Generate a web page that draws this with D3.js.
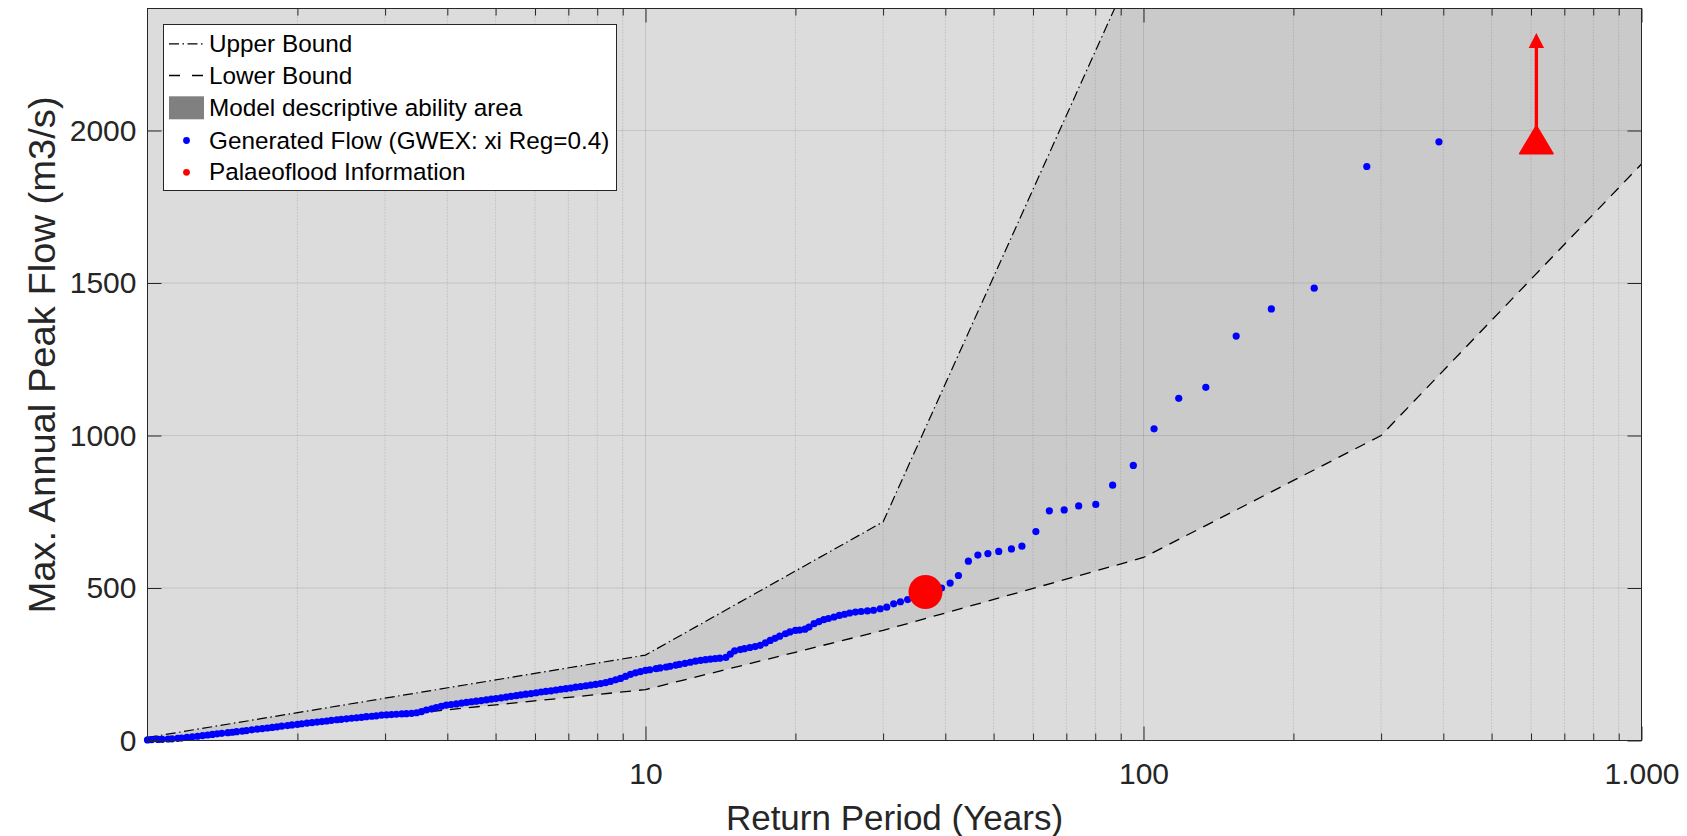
<!DOCTYPE html>
<html>
<head>
<meta charset="utf-8">
<script src="https://cdn.jsdelivr.net/npm/d3@7"></script>
<style>
  html, body { margin: 0; padding: 0; background: #ffffff; }
  svg { display: block; font-family: "Liberation Sans", Arial, Helvetica, sans-serif; }
</style>
</head>
<body>
<svg id="chart" width="1687" height="836"></svg>
<script>
// ---------------- data ----------------
// Generated annual peak flows, sorted, with their empirical return periods (years)
const returnPeriod = [
  1.00, 1.02, 1.05, 1.07, 1.10, 1.12, 1.15, 1.17, 1.20, 1.23,
  1.26, 1.29, 1.32, 1.35, 1.38, 1.41, 1.45, 1.48, 1.51, 1.55,
  1.58, 1.62, 1.66, 1.70, 1.74, 1.78, 1.82, 1.86, 1.91, 1.95,
  2.00, 2.04, 2.09, 2.14, 2.19, 2.24, 2.29, 2.34, 2.40, 2.45,
  2.51, 2.57, 2.63, 2.69, 2.75, 2.82, 2.88, 2.95, 3.02, 3.09,
  3.16, 3.24, 3.31, 3.39, 3.47, 3.55, 3.63, 3.72, 3.80, 3.89,
  3.98, 4.07, 4.17, 4.27, 4.37, 4.47, 4.57, 4.68, 4.79, 4.90,
  5.01, 5.13, 5.25, 5.37, 5.50, 5.62, 5.75, 5.89, 6.03, 6.17,
  6.31, 6.46, 6.61, 6.76, 6.92, 7.08, 7.24, 7.41, 7.59, 7.76,
  7.94, 8.13, 8.32, 8.51, 8.71, 8.91, 9.12, 9.33, 9.55, 9.77,
  10.0, 10.2, 10.5, 10.7, 11.0, 11.2, 11.5, 11.7, 12.0, 12.3,
  12.6, 12.9, 13.2, 13.5, 13.8, 14.1, 14.5, 14.8, 15.1, 15.5,
  15.8, 16.2, 16.6, 17.0, 17.4, 17.8, 18.2, 18.6, 19.1, 19.5,
  20.0, 20.4, 20.9, 21.3, 21.8, 22.3, 22.8, 23.3, 23.9, 24.5,
  25.1, 25.7, 26.4, 27.1, 27.9, 28.7, 29.6, 30.5, 31.5, 32.5,
  33.6, 34.8, 36.0, 37.4, 39.3, 40.9, 42.5, 44.5, 46.5, 48.7,
  51.2, 54.3, 57.0, 60.8, 64.7, 69.3, 74.1, 80.2, 86.7, 95.4,
  105, 117.7, 133.4, 153.5, 180.6, 220.2, 280.8, 392
];
const peakFlow = [
  2, 3, 3.5, 4, 5, 5.5, 7, 8, 10, 12,
  14, 16, 18, 20, 22, 23.5, 25.5, 27, 29, 31,
  32.5, 35, 37, 39, 41, 43, 45, 47, 49, 51,
  53, 55, 57, 58.5, 60.5, 62, 64, 66, 68, 69.5,
  71, 73, 74.5, 76, 78, 79.5, 81, 83, 84, 85,
  86, 87, 88, 89, 91, 95, 100, 104, 108, 112,
  116, 118, 120, 122.5, 125, 127, 129, 131, 133, 135.5,
  137.5, 140, 142.5, 145, 147, 149.5, 152, 154, 156.5, 159,
  161, 163, 165.5, 168, 170, 172, 175, 177, 179.5, 182,
  184, 186.5, 190, 194, 199, 203.5, 210, 217, 222, 226,
  230, 232, 235.5, 238, 241, 243.5, 247, 249.5, 253, 256.5,
  260, 263, 265, 267, 268.5, 270, 272.5, 283, 294, 298,
  301, 305, 308, 312, 320, 328, 335, 342, 350, 356,
  361, 362, 365, 372, 383, 390, 396, 400, 405, 410,
  414, 418, 421, 423, 425, 427, 432, 437, 448, 455,
  462, 476, 483, 490, 500, 516, 541, 588, 608, 613,
  620, 628, 637, 685, 753, 756, 769, 774, 837, 902,
  1022, 1122, 1158, 1326, 1415, 1483, 1882, 1963
];

// Bounds of the model descriptive ability area
const upperT = [1, 10, 30, 100, 1000];
const upperQ = [10, 280, 717, 2610, 6000];
const lowerT = [1, 10, 30, 100, 300, 1000];
const lowerQ = [0, 167, 361, 600, 1000, 1890];

// Palaeoflood information: dated flood and a censored (lower-limit) flood
const palaeoT = [36.5];
const palaeoQ = [487];
const censoredT = [615];
const censoredQ = [1970];
const censoredArrowTop = [2320];

// Axis ticks
const xTicks = [10, 100, 1000];
const xMinorTicks = [2, 3, 4, 5, 6, 7, 8, 9, 20, 30, 40, 50, 60, 70, 80, 90,
                     200, 300, 400, 500, 600, 700, 800, 900];
const yTicks = [0, 500, 1000, 1500, 2000];

const legendLabels = [
  "Upper Bound",
  "Lower Bound",
  "Model descriptive ability area",
  "Generated Flow (GWEX: xi Reg=0.4)",
  "Palaeoflood Information"
];

// ---------------- layout ----------------
const svg = d3.select("#chart");
const pL = 147.5, pR = 1641.5, pT = 8.5, pB = 740.5;
const axisColor = "#262626";

const x = d3.scaleLog().domain([1, 1000]).range([pL, pR]);
const y = d3.scaleLinear().domain([0, 2400]).range([pB, pT]);

const fmtX = d3.formatLocale({ decimal: ",", thousands: ".", grouping: [3], currency: ["", ""] }).format(",");

svg.append("defs").append("clipPath").attr("id", "plotClip")
  .append("rect").attr("x", pL).attr("y", pT).attr("width", pR - pL).attr("height", pB - pT);

// axes background
svg.append("rect")
  .attr("x", pL).attr("y", pT).attr("width", pR - pL).attr("height", pB - pT)
  .attr("fill", "#dcdcdc");

const plot = svg.append("g").attr("clip-path", "url(#plotClip)");

// shaded area between bounds
const upperPts = upperT.map((t, i) => [x(t), y(upperQ[i])]);
const lowerPts = lowerT.map((t, i) => [x(t), y(lowerQ[i])]);
plot.append("path")
  .attr("d", d3.line()(upperPts.concat(lowerPts.slice().reverse())) + "Z")
  .attr("fill", "#808080").attr("fill-opacity", 0.2).attr("stroke", "none");

// grid
const grid = svg.append("g");
grid.selectAll("line.minor").data(xMinorTicks).join("line")
  .attr("x1", d => x(d)).attr("x2", d => x(d)).attr("y1", pT).attr("y2", pB)
  .attr("stroke", "#000").attr("stroke-opacity", 0.2).attr("stroke-dasharray", "1,2");
grid.selectAll("line.vmajor").data(xTicks.slice(0, 2)).join("line")
  .attr("x1", d => x(d)).attr("x2", d => x(d)).attr("y1", pT).attr("y2", pB)
  .attr("stroke", "#000").attr("stroke-opacity", 0.1);
grid.selectAll("line.hmajor").data(yTicks.slice(1)).join("line")
  .attr("x1", pL).attr("x2", pR).attr("y1", d => y(d)).attr("y2", d => y(d))
  .attr("stroke", "#000").attr("stroke-opacity", 0.1);

// bound lines
const lines = svg.append("g").attr("clip-path", "url(#plotClip)");
lines.append("path").attr("d", d3.line()(upperPts))
  .attr("fill", "none").attr("stroke", "#000").attr("stroke-width", 1.2)
  .attr("stroke-dasharray", "10,3.5,1.5,3.5");
lines.append("path").attr("d", d3.line()(lowerPts))
  .attr("fill", "none").attr("stroke", "#000").attr("stroke-width", 1.3)
  .attr("stroke-dasharray", "11,8");

// generated flow points
svg.append("g").selectAll("circle").data(returnPeriod).join("circle")
  .attr("cx", d => x(d)).attr("cy", (d, i) => y(peakFlow[i])).attr("r", 3.6)
  .attr("fill", "#0000ff");

// palaeoflood
svg.append("g").selectAll("circle").data(palaeoT).join("circle")
  .attr("cx", d => x(d)).attr("cy", (d, i) => y(palaeoQ[i])).attr("r", 17)
  .attr("fill", "#ff0000");

// censored palaeoflood: arrow upward + triangle marker
const cens = svg.append("g");
censoredT.forEach((t, i) => {
  const cx = x(t), cy = y(censoredQ[i]), ty = y(censoredArrowTop[i]);
  cens.append("line").attr("x1", cx).attr("x2", cx).attr("y1", cy).attr("y2", ty + 14)
    .attr("stroke", "#ff0000").attr("stroke-width", 3.4);
  cens.append("path")
    .attr("d", `M${cx},${ty} L${cx - 7.7},${ty + 15} L${cx + 7.7},${ty + 15} Z`)
    .attr("fill", "#ff0000");
  cens.append("path")
    .attr("d", `M${cx},${cy - 14} L${cx - 16.7},${cy + 14} L${cx + 16.7},${cy + 14} Z`)
    .attr("fill", "#ff0000").attr("stroke", "#ff0000").attr("stroke-width", 1.5)
    .attr("stroke-linejoin", "round");
});

// axes
function styleAxis(g) {
  g.select(".domain").remove();
  g.selectAll(".tick line").attr("stroke", axisColor);
  g.selectAll(".tick text").attr("fill", axisColor).attr("font-size", 30)
    .attr("font-family", "'Liberation Sans', Arial, sans-serif");
}
svg.append("g").attr("transform", `translate(0,${pB})`)
  .call(d3.axisBottom(x).tickValues(xTicks).tickFormat(fmtX).tickSizeInner(-14).tickSizeOuter(0).tickPadding(22))
  .call(styleAxis);
svg.append("g").attr("transform", `translate(0,${pB})`)
  .call(d3.axisBottom(x).tickValues(xMinorTicks).tickFormat("").tickSizeInner(-7).tickSizeOuter(0))
  .call(styleAxis);
svg.append("g").attr("transform", `translate(0,${pT})`)
  .call(d3.axisTop(x).tickValues(xTicks).tickFormat("").tickSizeInner(-14).tickSizeOuter(0))
  .call(styleAxis);
svg.append("g").attr("transform", `translate(0,${pT})`)
  .call(d3.axisTop(x).tickValues(xMinorTicks).tickFormat("").tickSizeInner(-7).tickSizeOuter(0))
  .call(styleAxis);
svg.append("g").attr("transform", `translate(${pL},0)`)
  .call(d3.axisLeft(y).tickValues(yTicks).tickFormat(d3.format("d")).tickSizeInner(-14).tickSizeOuter(0).tickPadding(11))
  .call(styleAxis);
svg.append("g").attr("transform", `translate(${pR},0)`)
  .call(d3.axisRight(y).tickValues(yTicks).tickFormat("").tickSizeInner(-14).tickSizeOuter(0))
  .call(styleAxis);

// box
svg.append("rect")
  .attr("x", pL).attr("y", pT).attr("width", pR - pL).attr("height", pB - pT)
  .attr("fill", "none").attr("stroke", axisColor).attr("stroke-width", 1);

// axis titles
svg.append("text")
  .attr("x", (pL + pR) / 2).attr("y", 830)
  .attr("text-anchor", "middle").attr("font-size", 35).attr("fill", axisColor)
  .text("Return Period (Years)");
svg.append("text")
  .attr("transform", "translate(55,355) rotate(-90) scale(1.06,1)")
  .attr("text-anchor", "middle").attr("font-size", 36).attr("fill", axisColor)
  .text("Max. Annual Peak Flow (m3/s)");

// legend
const lg = svg.append("g");
lg.append("rect").attr("x", 163.5).attr("y", 24.5).attr("width", 453).attr("height", 166)
  .attr("fill", "#ffffff").attr("stroke", axisColor).attr("stroke-width", 1);
const rowY = [43.8, 75.5, 107.8, 140.5, 172.3];
lg.append("line").attr("x1", 169).attr("x2", 203).attr("y1", rowY[0]).attr("y2", rowY[0])
  .attr("stroke", "#000").attr("stroke-width", 1.2).attr("stroke-dasharray", "10,3.5,1.5,3.5");
lg.append("line").attr("x1", 169).attr("x2", 203).attr("y1", rowY[1]).attr("y2", rowY[1])
  .attr("stroke", "#000").attr("stroke-width", 1.3).attr("stroke-dasharray", "11,12");
lg.append("rect").attr("x", 169).attr("y", rowY[2] - 11.5).attr("width", 35).attr("height", 23)
  .attr("fill", "#808080");
lg.append("circle").attr("cx", 186.5).attr("cy", rowY[3]).attr("r", 3.4).attr("fill", "#0000ff");
lg.append("circle").attr("cx", 186.5).attr("cy", rowY[4]).attr("r", 3.4).attr("fill", "#ff0000");
lg.selectAll("text").data(legendLabels).join("text")
  .attr("x", 209).attr("y", (d, i) => rowY[i] + 8)
  .attr("font-size", 24.3).attr("fill", "#000")
  .text(d => d);
</script>
</body>
</html>
